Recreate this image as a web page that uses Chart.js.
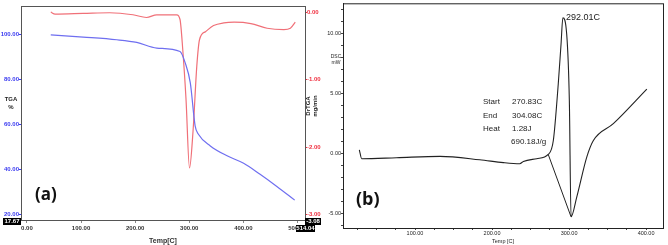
<!DOCTYPE html>
<html>
<head>
<meta charset="utf-8">
<script src="https://cdn.jsdelivr.net/npm/chart.js@4"></script>
<style>
  html, body { margin: 0; padding: 0; background: #fff; }
  #wrap { position: relative; width: 668px; height: 245px; overflow: hidden; }
  #chartA { position: absolute; left: 0; top: 0; }
  #chartB { position: absolute; left: 326px; top: 0; }
</style>
</head>
<body>
<div id="wrap">
  <canvas id="chartA" width="330" height="245"></canvas>
  <canvas id="chartB" width="342" height="245"></canvas>
</div>
<script>
// (a) TGA / DTGA
const TGA_TEMP = [44, 104, 166, 203, 240, 283, 292.6, 302, 311, 317, 339, 370, 400.6, 431, 462, 495];
const TGA_VAL = [100, 99, 97.8, 96.6, 94.1, 92.6, 87.5, 78.6, 59.4, 55.8, 50.6, 46.2, 42.9, 38, 32.6, 26.5];
const DTGA_TEMP = [44, 52, 104, 153, 196, 221, 240, 277, 283, 288, 294, 300.5, 307, 314, 319, 330, 345, 364, 383, 414, 444, 475, 487, 496];
const DTGA_VAL = [0, -0.03, -0.02, -0.01, -0.04, -0.08, -0.04, -0.04, -0.11, -0.55, -1.28, -2.31, -1.77, -0.8, -0.41, -0.29, -0.2, -0.16, -0.15, -0.17, -0.24, -0.26, -0.24, -0.15];
const A_X_TICKS = [0, 100, 200, 300, 400, 500];
const TGA_TICKS = [20, 40, 60, 80, 100];
const DTGA_TICKS = [0, -1, -2, -3];

// (b) DSC
const DSC_TEMP = [27.7, 30.8, 76, 132.5, 184, 214.7, 236, 240.7, 258, 273, 279.6, 286, 289.6, 292, 297, 300.4, 302.6, 310, 323, 331.6, 357.5, 401];
const DSC_VAL = [0.33, -0.41, -0.33, -0.22, -0.5, -0.74, -0.83, -0.64, -0.41, -0.06, 1.1, 5.8, 9.1, 11.3, 9.9, 4.4, -5.24, -3.6, -0.28, 1.1, 2.5, 5.37];
const BASE_TEMP = [273, 302.6];
const BASE_VAL = [-0.06, -5.24];
const B_X_TICKS = [100, 200, 300, 400];
const DSC_TICKS = [-5, 0, 5, 10];

const pts = (xs, ys) => xs.map((x, i) => ({ x: x, y: ys[i] }));
const sans = '"Liberation Sans", Arial, sans-serif';

// 枠線と注記を描くプラグイン
const frameA = {
    id: 'frameA',
    afterDraw(chart) {
        const c = chart.ctx, a = chart.chartArea;
        c.save();
        c.strokeStyle = '#555';
        c.lineWidth = 1;
        c.strokeRect(a.left + 0.5, a.top + 0.5, a.right - a.left, a.bottom - a.top);

        c.fillStyle = '#222';
        c.font = 'bold 6px ' + sans;
        c.textAlign = 'center';
        c.textBaseline = 'middle';
        c.fillText('TGA', 11, 99);
        c.fillText('%', 11, 107);

        c.save();
        c.translate(311, 106);
        c.rotate(-Math.PI / 2);
        c.fillText('DrTGA', 0, -3);
        c.fillText('mg/min', 0, 4);
        c.restore();

        // black value boxes
        const box = (txt, x, y, w) => {
            c.fillStyle = '#000';
            c.fillRect(x, y, w, 7);
            c.fillStyle = '#fff';
            c.font = 'bold 6px ' + sans;
            c.textAlign = 'center';
            c.fillText(txt, x + w / 2, y + 3.7);
        };
        box('17.67', 3, 218, 18);
        box('-3.08', 305, 218, 16);
        box('514.04', 296, 225, 19);

        c.fillStyle = '#111';
        c.font = 'bold 17px "Open Sans", "Liberation Sans", sans-serif';
        c.textAlign = 'left';
        c.fillText('(a)', 35, 195);
        c.restore();
    }
};

const frameB = {
    id: 'frameB',
    afterDraw(chart) {
        const c = chart.ctx, a = chart.chartArea;
        c.save();
        c.strokeStyle = '#222';
        c.lineWidth = 1;
        c.strokeRect(a.left + 0.5, a.top + 0.5, a.right - a.left, a.bottom - a.top);

        c.fillStyle = '#222';
        c.font = '5px ' + sans;
        c.textAlign = 'center';
        c.textBaseline = 'middle';
        c.fillText('DSC', 10, 57);
        c.fillText('mW', 10, 63);

        c.font = '8px ' + sans;
        c.textAlign = 'left';
        c.fillText('Start', 157, 102);
        c.fillText('270.83C', 186, 102);
        c.fillText('End', 157, 116);
        c.fillText('304.08C', 186, 116);
        c.fillText('Heat', 157, 129);
        c.fillText('1.28J', 186, 129);
        c.fillText('690.18J/g', 185, 142);

        c.font = '9px ' + sans;
        c.fillText('292.01C', 240, 18);

        c.fillStyle = '#111';
        c.font = 'bold 18px "Open Sans", "Liberation Sans", sans-serif';
        c.fillText('(b)', 30, 200);
        c.restore();
    }
};

new Chart(document.getElementById('chartA'), {
    type: 'line',
    data: {
        datasets: [
            {
                label: 'TGA',
                data: pts(TGA_TEMP, TGA_VAL),
                borderColor: '#6f6ff0',
                borderWidth: 1.2,
                pointRadius: 0,
                cubicInterpolationMode: 'monotone',
                yAxisID: 'y'
            },
            {
                label: 'DrTGA',
                data: pts(DTGA_TEMP, DTGA_VAL),
                borderColor: '#f07078',
                borderWidth: 1.2,
                pointRadius: 0,
                cubicInterpolationMode: 'monotone',
                yAxisID: 'y1'
            }
        ]
    },
    options: {
        responsive: false,
        animation: false,
        layout: { padding: { top: 6, left: 0, right: 0, bottom: 0 } },
        plugins: { legend: { display: false }, tooltip: { enabled: false } },
        scales: {
            x: {
                type: 'linear',
                min: -11,
                max: 514.04,
                afterBuildTicks: s => { s.ticks = A_X_TICKS.map(v => ({ value: v })); },
                afterFit: s => { s.height = 25; },
                grid: { drawOnChartArea: false, tickLength: 3, color: '#888' },
                border: { color: '#555' },
                ticks: {
                    color: '#333', padding: 2, maxRotation: 0,
                    font: { size: 6, weight: 'bold', family: sans },
                    callback: v => v.toFixed(2)
                },
                title: {
                    display: true, text: 'Temp[C]', color: '#333', padding: 0,
                    font: { size: 7, weight: 'bold', family: sans }
                }
            },
            y: {
                position: 'left',
                min: 17.67,
                max: 112.8,
                afterBuildTicks: s => { s.ticks = TGA_TICKS.map(v => ({ value: v })); },
                afterFit: s => { s.width = 21; },
                grid: { drawOnChartArea: false, tickLength: 2, color: '#3a3af0' },
                border: { color: '#555' },
                ticks: {
                    color: '#3a3af0', padding: 0,
                    font: { size: 6, weight: 'bold', family: sans },
                    callback: v => v.toFixed(2)
                }
            },
            y1: {
                position: 'right',
                min: -3.08,
                max: 0.09,
                afterBuildTicks: s => { s.ticks = DTGA_TICKS.map(v => ({ value: v })); },
                afterFit: s => { s.width = 25; },
                grid: { drawOnChartArea: false, tickLength: 2, color: '#f03040' },
                border: { color: '#555' },
                ticks: {
                    color: '#f03040', padding: 0,
                    font: { size: 6, weight: 'bold', family: sans },
                    callback: v => v.toFixed(2)
                }
            }
        }
    },
    plugins: [frameA]
});

new Chart(document.getElementById('chartB'), {
    type: 'line',
    data: {
        datasets: [
            {
                label: 'DSC',
                data: pts(DSC_TEMP, DSC_VAL),
                borderColor: '#222',
                borderWidth: 1.1,
                pointRadius: 0,
                cubicInterpolationMode: 'monotone'
            },
            {
                label: 'baseline',
                data: pts(BASE_TEMP, BASE_VAL),
                borderColor: '#222',
                borderWidth: 1,
                pointRadius: 0
            }
        ]
    },
    options: {
        responsive: false,
        animation: false,
        layout: { padding: { top: 2, left: 0, right: 5, bottom: 0 } },
        plugins: { legend: { display: false }, tooltip: { enabled: false } },
        scales: {
            x: {
                type: 'linear',
                min: 6.5,
                max: 422,
                afterBuildTicks: s => {
                    const t = [];
                    for (let v = 25; v <= 420; v += 25) t.push({ value: v });
                    s.ticks = t;
                },
                afterFit: s => { s.height = 17; },
                grid: { drawOnChartArea: false, tickLength: 2, color: '#444' },
                border: { color: '#222' },
                ticks: {
                    color: '#222', padding: 0, maxRotation: 0, autoSkip: false,
                    font: { size: 5.5, family: sans },
                    callback: v => B_X_TICKS.includes(v) ? v.toFixed(2) : ''
                },
                title: {
                    display: true, text: 'Temp [C]', color: '#222', padding: 0,
                    font: { size: 5.5, family: sans }
                }
            },
            y: {
                min: -6.17,
                max: 12.5,
                afterBuildTicks: s => {
                    const t = [];
                    for (let v = -6; v <= 12; v += 1) t.push({ value: v });
                    s.ticks = t;
                },
                afterFit: s => { s.width = 17; },
                grid: { drawOnChartArea: false, tickLength: 2, color: '#444' },
                border: { color: '#222' },
                ticks: {
                    color: '#222', padding: 0, autoSkip: false,
                    font: { size: 5.5, family: sans },
                    callback: v => DSC_TICKS.includes(v) ? v.toFixed(2) : ''
                }
            }
        }
    },
    plugins: [frameB]
});
</script>
</body>
</html>
